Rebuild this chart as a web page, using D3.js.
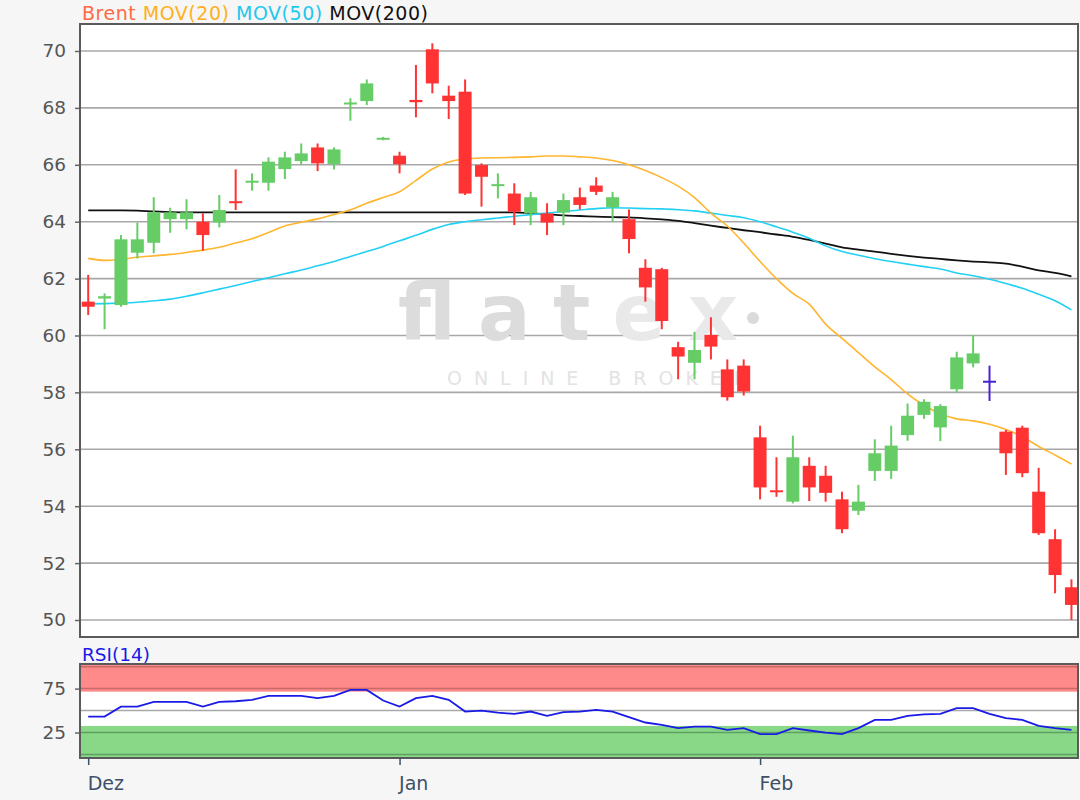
<!DOCTYPE html>
<html>
<head>
<meta charset="utf-8">
<script src="https://cdn.jsdelivr.net/npm/d3@7"></script>
<style>
  body { margin: 0; background: #f6f6f6; }
  svg { display: block; font-family: "DejaVu Sans", Verdana, sans-serif; }
</style>
</head>
<body>
<div id="chart"></div>
<script>
// Brent daily candles, Dez - Feb (one entry per trading day)
var openP  = [61.19,61.30,61.07,62.91,63.26,64.09,64.09,64.00,63.97,64.72,65.38,65.37,65.85,66.13,66.61,66.03,68.13,68.24,66.91,66.32,
              68.28,70.06,68.43,68.57,65.99,65.26,64.99,64.29,64.29,64.32,64.86,65.27,64.51,64.09,62.38,62.33,59.59,59.04,60.02,58.81,
              58.94,56.42,54.56,54.16,55.42,55.07,54.24,53.84,55.24,55.24,56.50,57.21,56.77,58.11,59.02,58.41,56.62,56.76,54.51,52.84,51.15];
var highP  = [62.13,61.48,63.53,63.97,64.86,64.49,64.79,64.29,64.94,65.84,65.70,66.26,66.46,66.75,66.75,66.61,68.34,69.00,66.98,66.46,
              69.51,70.27,68.78,69.00,66.05,65.70,65.35,65.05,64.65,64.99,65.20,65.56,65.05,64.43,62.68,62.38,59.78,60.13,60.64,59.16,
              59.16,56.83,55.72,56.48,55.72,55.42,54.51,54.75,56.35,56.83,57.61,57.76,57.59,59.43,60.02,58.94,56.68,56.83,55.35,53.19,51.43];
var lowP   = [60.72,60.22,61.01,62.71,62.89,63.61,63.73,62.98,63.80,64.41,65.09,65.09,65.50,66.02,65.78,65.84,67.55,68.10,66.86,65.70,
              67.67,68.51,67.61,64.94,64.53,64.82,63.88,63.88,63.53,63.88,64.43,64.94,64.00,62.89,61.19,60.22,58.46,58.46,59.16,57.71,
              57.89,54.24,54.33,54.10,54.18,54.16,53.05,53.69,54.89,54.96,56.30,57.07,56.29,57.99,58.88,57.70,55.10,55.02,52.99,50.94,50.00];
var closeP = [61.01,61.38,63.38,63.38,64.33,64.33,64.33,63.53,64.41,64.65,65.44,66.11,66.26,66.40,66.05,66.54,68.19,68.86,66.95,66.02,
              68.20,68.86,68.24,64.99,65.58,65.32,64.35,64.86,63.97,64.76,64.59,65.05,64.86,63.39,61.69,60.51,59.26,59.49,59.61,57.83,
              58.03,54.66,54.50,55.72,54.66,54.47,53.19,54.16,55.86,56.13,57.18,57.67,57.52,59.23,59.37,58.41,55.86,55.16,53.05,51.58,50.53];

// moving averages
var mov20  = [62.71,62.64,62.68,62.75,62.80,62.85,62.92,63.00,63.10,63.25,63.40,63.62,63.85,63.98,64.10,64.25,64.42,64.65,64.85,65.05,
              65.45,65.85,66.10,66.20,66.24,66.25,66.26,66.28,66.31,66.31,66.28,66.24,66.15,66.00,65.80,65.55,65.25,64.85,64.30,63.85,
              63.25,62.60,62.00,61.48,61.10,60.40,59.90,59.40,58.90,58.45,57.95,57.55,57.25,57.07,57.00,56.88,56.70,56.45,56.10,55.80,55.48];
var mov50  = [61.11,61.12,61.14,61.17,61.22,61.28,61.38,61.50,61.63,61.76,61.90,62.03,62.17,62.30,62.45,62.60,62.78,62.95,63.13,63.33,
              63.52,63.73,63.90,64.00,64.07,64.13,64.19,64.25,64.30,64.36,64.41,64.46,64.49,64.48,64.46,64.45,64.42,64.38,64.30,64.22,
              64.14,64.00,63.82,63.63,63.42,63.15,62.95,62.82,62.70,62.60,62.51,62.42,62.34,62.20,62.10,61.98,61.83,61.66,61.45,61.22,60.90];
var mov200 = [64.40,64.40,64.40,64.39,64.36,64.34,64.33,64.33,64.33,64.33,64.33,64.33,64.33,64.33,64.33,64.33,64.33,64.33,64.33,64.33,
              64.33,64.33,64.33,64.33,64.33,64.33,64.33,64.30,64.26,64.22,64.20,64.18,64.16,64.15,64.12,64.08,64.03,63.95,63.86,63.78,
              63.70,63.63,63.55,63.47,63.36,63.23,63.10,63.02,62.95,62.87,62.80,62.74,62.69,62.64,62.60,62.57,62.53,62.42,62.29,62.20,62.08];

var rsi14  = [43.2,43.2,54.5,54.5,59.9,59.9,59.9,54.5,59.9,60.6,62.2,66.7,66.7,66.7,64.1,66.7,73.5,73.5,61.4,54.5,
              64.1,66.7,62.2,48.9,50.0,47.7,46.2,48.9,44.0,48.3,48.9,50.8,48.9,42.5,36.4,33.8,30.0,31.8,31.8,28.1,
              30.0,23.2,23.2,30.0,27.3,25.0,23.2,30.0,39.4,39.4,44.0,45.6,46.2,52.7,52.7,46.2,41.3,39.4,32.6,30.0,28.1];

var monthTicks  = [0, 19, 41];
var monthLabels = ["Dez", "Jan", "Feb"];
var priceTicks  = [50, 52, 54, 56, 58, 60, 62, 64, 66, 68, 70];
var rsiTicks    = [25, 75];
var rsiLines    = [0, 25, 75, 100];

var W = 1080, H = 800;
var left = 80, right = 1078;
var mainTop = 24, mainBottom = 637;
var rsiTop = 664, rsiBottom = 758;

var svg = d3.select("#chart").append("svg")
  .attr("width", W).attr("height", H);

svg.append("rect").attr("width", W).attr("height", H).attr("fill", "#f6f6f6");

var x = d3.scaleLinear().domain([-0.5, 60.4]).range([left, right]);
var y = d3.scaleLinear().domain([50, 70]).range([620, 51]);
var yr = d3.scaleLinear().domain([-4, 103]).range([rsiBottom, rsiTop]);

// ---------- main panel ----------
svg.append("rect")
  .attr("x", left).attr("y", mainTop)
  .attr("width", right - left).attr("height", mainBottom - mainTop)
  .attr("fill", "#fff");

// grid
svg.append("g").selectAll("line")
  .data(priceTicks).enter().append("line")
    .attr("x1", left).attr("x2", right)
    .attr("y1", function (d) { return y(d); })
    .attr("y2", function (d) { return y(d); })
    .attr("stroke", "#a8a8a8").attr("stroke-width", 1.6);

// watermark
var wm = svg.append("g");
wm.append("text")
  .attr("x", 398).attr("y", 340)
  .attr("font-size", 78).attr("font-weight", "bold")
  .attr("textLength", 340).attr("lengthAdjust", "spacing")
  .html('<tspan fill="#dcdcdc">flat</tspan><tspan fill="#e9e9e9">ex</tspan>');
wm.append("circle").attr("cx", 753).attr("cy", 318).attr("r", 6).attr("fill", "#dadada");
wm.append("text")
  .attr("x", 447).attr("y", 385)
  .attr("font-size", 19)
  .attr("textLength", 300).attr("lengthAdjust", "spacing")
  .attr("fill", "#e3e3e3")
  .text("ONLINE BROKER");

// y axis
var yAxis = d3.axisLeft(y).tickValues(priceTicks).tickSize(5).tickPadding(9);
var gy = svg.append("g").attr("transform", "translate(" + left + ",0)").call(yAxis);
gy.select(".domain").remove();
gy.selectAll(".tick line").attr("stroke", "#666").attr("stroke-width", 1.5);
gy.selectAll(".tick text").attr("fill", "#555").attr("font-size", 18.5)
  .attr("font-family", "DejaVu Sans, Verdana, sans-serif");

// moving averages
var idx = d3.range(openP.length);
function maLine(arr) {
  return d3.line()
    .x(function (i) { return x(i); })
    .y(function (i) { return y(arr[i]); })
    .curve(d3.curveMonotoneX)(idx);
}
svg.append("path").attr("d", maLine(mov200)).attr("fill", "none")
  .attr("stroke", "#111").attr("stroke-width", 1.8);
svg.append("path").attr("d", maLine(mov50)).attr("fill", "none")
  .attr("stroke", "#22d0f4").attr("stroke-width", 1.6);
svg.append("path").attr("d", maLine(mov20)).attr("fill", "none")
  .attr("stroke", "#ffb52e").attr("stroke-width", 1.6);

// candles
function candleColor(i) {
  if (closeP[i] > openP[i]) return "#66cc66";
  if (closeP[i] < openP[i]) return "#ff3333";
  return "#4a22d0";
}
var bw = 13;
var candles = svg.append("g").selectAll("g").data(idx).enter().append("g");
candles.append("line")
  .attr("x1", function (i) { return x(i); })
  .attr("x2", function (i) { return x(i); })
  .attr("y1", function (i) { return y(highP[i]); })
  .attr("y2", function (i) { return y(lowP[i]); })
  .attr("stroke", candleColor).attr("stroke-width", 2);
candles.append("rect")
  .attr("x", function (i) { return x(i) - bw / 2; })
  .attr("width", bw)
  .attr("y", function (i) { return y(Math.max(openP[i], closeP[i])); })
  .attr("height", function (i) {
    return Math.max(2, Math.abs(y(openP[i]) - y(closeP[i])));
  })
  .attr("fill", candleColor);

// frame
svg.append("rect")
  .attr("x", left).attr("y", mainTop)
  .attr("width", right - left).attr("height", mainBottom - mainTop)
  .attr("fill", "none").attr("stroke", "#5a5a5a").attr("stroke-width", 2);

// legend
svg.append("text").attr("x", 82).attr("y", 20).attr("font-size", 19)
  .attr("textLength", 346).attr("lengthAdjust", "spacing")
  .html('<tspan fill="#ff6a45">Brent</tspan> <tspan fill="#ffb020">MOV(20)</tspan> ' +
        '<tspan fill="#1ec8ee">MOV(50)</tspan> <tspan fill="#111">MOV(200)</tspan>');

// ---------- RSI panel ----------
svg.append("rect")
  .attr("x", left).attr("y", rsiTop)
  .attr("width", right - left).attr("height", rsiBottom - rsiTop)
  .attr("fill", "#fff");

svg.append("rect")
  .attr("x", left).attr("width", right - left)
  .attr("y", yr(103)).attr("height", yr(71.5) - yr(103))
  .attr("fill", "#ff8a8a");
svg.append("rect")
  .attr("x", left).attr("width", right - left)
  .attr("y", yr(32.5)).attr("height", yr(-4) - yr(32.5))
  .attr("fill", "#88d888");

svg.append("g").selectAll("line").data(rsiLines).enter().append("line")
  .attr("x1", left).attr("x2", right)
  .attr("y1", function (d) { return yr(d); })
  .attr("y2", function (d) { return yr(d); })
  .attr("stroke", function (d) { return d > 50 ? "#c86a6a" : "#5f9f5f"; })
  .attr("stroke-width", 1.5);
svg.append("line")
  .attr("x1", left).attr("x2", right)
  .attr("y1", yr(50)).attr("y2", yr(50))
  .attr("stroke", "#a8a8a8").attr("stroke-width", 1.5);

svg.append("path")
  .attr("d", d3.line()
    .x(function (i) { return x(i); })
    .y(function (i) { return yr(rsi14[i]); })(idx))
  .attr("fill", "none").attr("stroke", "#1a1ae6").attr("stroke-width", 1.8);

var rAxis = d3.axisLeft(yr).tickValues(rsiTicks).tickSize(5).tickPadding(9);
var gr = svg.append("g").attr("transform", "translate(" + left + ",0)").call(rAxis);
gr.select(".domain").remove();
gr.selectAll(".tick line").attr("stroke", "#666").attr("stroke-width", 1.5);
gr.selectAll(".tick text").attr("fill", "#555").attr("font-size", 18.5)
  .attr("font-family", "DejaVu Sans, Verdana, sans-serif");

svg.append("rect")
  .attr("x", left).attr("y", rsiTop)
  .attr("width", right - left).attr("height", rsiBottom - rsiTop)
  .attr("fill", "none").attr("stroke", "#5a5a5a").attr("stroke-width", 2);

svg.append("text").attr("x", 82).attr("y", 661).attr("font-size", 18.5)
  .attr("fill", "#1a1ae6").text("RSI(14)");

// x axis
var xAxis = d3.axisBottom(x).tickValues(monthTicks)
  .tickFormat(function (d, i) { return monthLabels[i]; })
  .tickSize(7).tickPadding(12);
var gx = svg.append("g").attr("transform", "translate(0," + rsiBottom + ")").call(xAxis);
gx.select(".domain").remove();
gx.selectAll(".tick line").attr("stroke", "#3d5066").attr("stroke-width", 1.5);
gx.selectAll(".tick text").attr("fill", "#3d5066").attr("font-size", 19)
  .attr("text-anchor", "start").attr("dx", -1)
  .attr("font-family", "DejaVu Sans, Verdana, sans-serif");
</script>
</body>
</html>
